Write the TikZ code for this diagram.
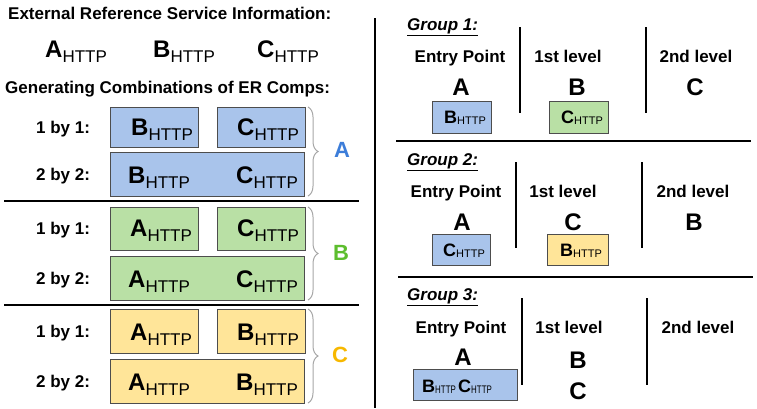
\documentclass[tikz,border=0pt]{standalone}
\usepackage{fontspec}
\setmainfont{Liberation Sans}
\usetikzlibrary{decorations.pathreplacing}
\definecolor{cblue}{HTML}{A9C4EB}
\definecolor{cgreen}{HTML}{B9E0A5}
\definecolor{cyellow}{HTML}{FFE599}
\definecolor{lblue}{HTML}{3C7DD9}
\definecolor{lgreen}{HTML}{5DBE2E}
\definecolor{lorange}{HTML}{F7B800}
\definecolor{boxline}{HTML}{4D4D4D}
\newcommand{\fsz}[1]{\fontsize{#1}{#1}\selectfont}
\newcommand{\ERbig}[1]{{\fsz{24}\bfseries #1}\raisebox{-5.5pt}{\fsz{17}HTTP}}
\newcommand{\ERsmall}[1]{{\fsz{18}\bfseries #1}\raisebox{-1.5pt}{\fsz{11}HTTP}}
\newcommand{\ERtight}[1]{{\fsz{18}\bfseries #1}\raisebox{-1.5pt}{\scalebox{0.72}[1]{\fsz{11}HTTP}}}
\begin{document}
\begin{tikzpicture}[x=1pt,y=-1pt,
  lbl/.style={font=\fsz{17}\bfseries, inner sep=0, anchor=base west},
  lvl/.style={font=\fsz{17}\bfseries, inner sep=0, anchor=base},
  eptxt/.style={font=\fsz{17}\bfseries, inner sep=0, anchor=base},
  bigl/.style={font=\fsz{24}\bfseries, inner sep=0, anchor=base},
  grp/.style={font=\fsz{17}\bfseries\itshape, inner sep=0, anchor=base west},
  ertxt/.style={inner sep=0, anchor=base west},
  box/.style={draw=boxline, line width=0.8pt},
  sep/.style={line width=2.2pt},
  vsep/.style={line width=2.4pt},
  brc/.style={draw=gray!70, line width=1pt, decorate, decoration={brace, amplitude=10pt}},
  grplbl/.style={font=\fsz{22}\bfseries, inner sep=0}]
\useasboundingbox (0,0) rectangle (757,408);

% ---------------- left part ----------------
\node[lbl] (t1) at (8,19) {External Reference Service Information:};
\node[ertxt] (ea) at (45,57) {\ERbig{A}};
\node[ertxt] (eb) at (153,57) {\ERbig{B}};
\node[ertxt] (ec) at (257,57) {\ERbig{C}};
\node[lbl] (t2) at (5,93) {Generating Combinations of ER Comps:};

% group A
\draw[box, fill=cblue] (110,107) rectangle (198,147);
\draw[box, fill=cblue] (217,107) rectangle (305,147);
\draw[box, fill=cblue] (110,152) rectangle (304,196);
\node[lbl] (a1) at (36,133) {1 by 1:};
\node[lbl] (a2) at (36,180) {2 by 2:};
\node[ertxt] (a11) at (131,135) {\ERbig{B}};
\node[ertxt] (a12) at (237,135) {\ERbig{C}};
\node[ertxt] (a21) at (128,183) {\ERbig{B}};
\node[ertxt] (a22) at (236,183) {\ERbig{C}};
\draw[brc] (308,107) -- (308,196);
\node[grplbl, text=lblue] (ga) at (342,150) {A};

\draw[sep] (4,201) -- (359,201);

% group B
\draw[box, fill=cgreen] (110,207) rectangle (198,250);
\draw[box, fill=cgreen] (217,207) rectangle (305,250);
\draw[box, fill=cgreen] (110,256) rectangle (304,300);
\node[lbl] (b1) at (36,234) {1 by 1:};
\node[lbl] (b2) at (36,284) {2 by 2:};
\node[ertxt] (b11) at (130,236) {\ERbig{A}};
\node[ertxt] (b12) at (237,236) {\ERbig{C}};
\node[ertxt] (b21) at (128,287) {\ERbig{A}};
\node[ertxt] (b22) at (236,287) {\ERbig{C}};
\draw[brc] (308,207) -- (308,300);
\node[grplbl, text=lgreen] (gb) at (341,253) {B};

\draw[sep] (4,305) -- (359,305);

% group C
\draw[box, fill=cyellow] (110,309) rectangle (198,353);
\draw[box, fill=cyellow] (217,309) rectangle (305,353);
\draw[box, fill=cyellow] (110,359) rectangle (304,403);
\node[lbl] (c1) at (36,337) {1 by 1:};
\node[lbl] (c2) at (36,387) {2 by 2:};
\node[ertxt] (c11) at (130,340) {\ERbig{A}};
\node[ertxt] (c12) at (237,340) {\ERbig{B}};
\node[ertxt] (c21) at (128,390) {\ERbig{A}};
\node[ertxt] (c22) at (236,390) {\ERbig{B}};
\draw[brc] (308,309) -- (308,403);
\node[grplbl, text=lorange] (gc) at (340,355) {C};

% main divider
\draw[line width=1.8pt] (375,18) -- (375,408);

% ---------------- right part ----------------
% group 1
\node[grp] (g1) at (407,30) {\underline{Group 1:}};
\node[eptxt] (g1e) at (460,62) {Entry Point};
\node[lvl] (g1f) at (568,62) {1st level};
\node[lvl] (g1s) at (696,62) {2nd level};
\node[bigl] (g1a) at (461,95) {A};
\node[bigl] (g1b) at (577,95) {B};
\node[bigl] (g1c) at (695,95) {C};
\draw[vsep] (520,27) -- (520,113);
\draw[vsep] (646,27) -- (646,113);
\draw[box, fill=cblue] (432,101) rectangle (491,133);
\node[ertxt] (g1x) at (444,123) {\ERsmall{B}};
\draw[box, fill=cgreen] (549,101) rectangle (608,133);
\node[ertxt] (g1y) at (561,123) {\ERsmall{C}};

\draw[sep] (396,141) -- (751,141);

% group 2
\node[grp] (g2) at (407,165) {\underline{Group 2:}};
\node[eptxt] (g2e) at (456,197) {Entry Point};
\node[lvl] (g2f) at (563,197) {1st level};
\node[lvl] (g2s) at (693,197) {2nd level};
\node[bigl] (g2a) at (462,230) {A};
\node[bigl] (g2b) at (573,230) {C};
\node[bigl] (g2c) at (694,230) {B};
\draw[vsep] (516,162) -- (516,248);
\draw[vsep] (642,162) -- (642,248);
\draw[box, fill=cblue] (432,234) rectangle (490,265);
\node[ertxt] (g2x) at (443,256) {\ERsmall{C}};
\draw[box, fill=cyellow] (547,234) rectangle (608,265);
\node[ertxt] (g2y) at (560,256) {\ERsmall{B}};

\draw[sep] (398,277) -- (753,277);

% group 3
\node[grp] (g3) at (407,300) {\underline{Group 3:}};
\node[eptxt] (g3e) at (461,333) {Entry Point};
\node[lvl] (g3f) at (569,333) {1st level};
\node[lvl] (g3s) at (698,333) {2nd level};
\node[bigl] (g3a) at (463,365) {A};
\node[bigl] (g3b) at (578,368) {B};
\node[bigl] (g3c) at (578,399) {C};
\draw[vsep] (522,298) -- (522,385);
\draw[vsep] (647,298) -- (647,385);
\draw[box, fill=cblue] (413,369) rectangle (517,400);
\node[ertxt] (g3x) at (422,392) {\ERtight{B}};
\node[ertxt] (g3y) at (458,392) {\ERtight{C}};
\end{tikzpicture}
\end{document}
